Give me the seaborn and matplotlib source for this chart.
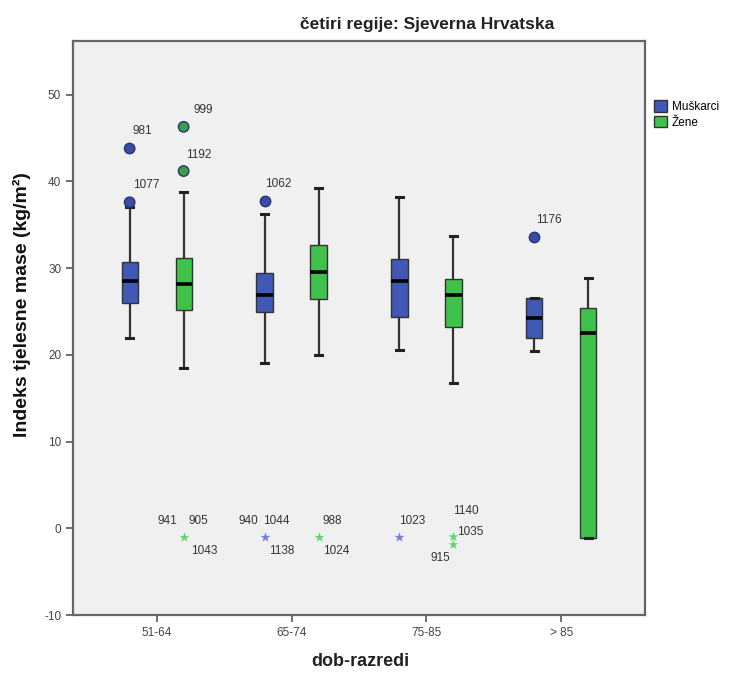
import numpy as np
import pandas as pd
import matplotlib
matplotlib.use("Agg")
import matplotlib.pyplot as plt
import seaborn as sns

# ---------------- data ----------------
groups = ['51-64', '65-74', '75-85', '> 85']
sexes = ['Muškarci', 'Žene']

men_low = [22.0, 19.1, 20.6, 20.4]
men_q1 = [26.0, 24.9, 24.4, 22.0]
men_med = [28.5, 26.9, 28.5, 24.3]
men_q3 = [30.7, 29.5, 31.1, 26.6]
men_high = [37.0, 36.3, 38.2, 26.6]

women_low = [18.5, 20.0, 16.8, -1.1]
women_q1 = [25.2, 26.4, 23.2, -1.1]
women_med = [28.2, 29.6, 26.9, 22.5]
women_q3 = [31.2, 32.7, 28.7, 25.4]
women_high = [38.8, 39.3, 33.7, 28.9]

outlier_group = ['51-64', '51-64', '51-64', '51-64', '65-74', '> 85']
outlier_sex = ['Muškarci', 'Muškarci', 'Žene', 'Žene', 'Muškarci', 'Muškarci']
outlier_value = [43.8, 37.6, 46.3, 41.2, 37.8, 33.6]
outlier_id = ['981', '1077', '999', '1192', '1062', '1176']

extreme_group = ['51-64', '65-74', '65-74', '75-85', '75-85', '75-85']
extreme_sex = ['Žene', 'Muškarci', 'Žene', 'Muškarci', 'Žene', 'Žene']
extreme_value = [-1.0, -1.0, -1.0, -1.0, -1.0, -1.9]
extreme_ids = [['941', '905', '1043'], ['940', '1044', '1138'], ['988', '1024'],
               ['1023'], ['1140', '1035'], ['915']]

# label placement (pixels: dx, dy, ha)
outlier_label_pos = [(3, 18, 'left'), (3, 17, 'left'), (10, 17, 'left'),
                     (2, 16, 'left'), (0, 17, 'left'), (2, 17, 'left')]
extreme_label_pos = [[(-6, 16, 'right'), (5, 16, 'left'), (7, -14, 'left')],
                     [(-6, 16, 'right'), (-2, 16, 'left'), (4, -14, 'left')],
                     [(4, 16, 'left'), (5, -14, 'left')],
                     [(0, 16, 'left')],
                     [(0, 26, 'left'), (4, 5, 'left')],
                     [(-3, -13, 'right')]]

# ---------------- build long table from five-number summaries ----------------
rows = []
for i, g in enumerate(groups):
    for v in (men_low[i], men_q1[i], men_med[i], men_q3[i], men_high[i]):
        rows.append((g, 'Muškarci', v))
    for v in (women_low[i], women_q1[i], women_med[i], women_q3[i], women_high[i]):
        rows.append((g, 'Žene', v))
df = pd.DataFrame(rows, columns=['dob', 'spol', 'bmi'])

out_df = pd.DataFrame({'dob': outlier_group, 'spol': outlier_sex, 'bmi': outlier_value})
ext_df = pd.DataFrame({'dob': extreme_group, 'spol': extreme_sex, 'bmi': extreme_value})

box_colors = {'Muškarci': '#4058B6', 'Žene': '#3EC24C'}
out_colors = {'Muškarci': '#3A4DA6', 'Žene': '#3A9E4A'}
star_colors = {'Muškarci': '#7480D6', 'Žene': '#62D56E'}

plt.rcParams['font.family'] = ['Liberation Sans', 'DejaVu Sans']
plt.rcParams['axes.unicode_minus'] = False

fig = plt.figure(figsize=(7.4, 6.77), dpi=100)
fig.patch.set_facecolor('white')
ax = fig.add_axes([73 / 740, 1 - 615 / 677, (645 - 73) / 740, (615 - 41) / 677])
ax.set_facecolor('#F0F0F0')

sns.boxplot(data=df, x='dob', y='bmi', hue='spol', order=groups, hue_order=sexes,
            palette=box_colors, width=0.8, gap=0.7, whis=1.5, showfliers=False,
            linecolor='#333333', linewidth=1.0, saturation=1,
            medianprops=dict(color='black', linewidth=2.6),
            whiskerprops=dict(color='#333333', linewidth=1.6),
            capprops=dict(color='#222222', linewidth=2.2),
            capwidths=0.055,
            ax=ax, legend=True)

sns.stripplot(data=out_df, x='dob', y='bmi', hue='spol', order=groups, hue_order=sexes,
              palette=out_colors, dodge=True, jitter=False, marker='o', size=7.5,
              linewidth=1.0, edgecolor='#2A3270', ax=ax, legend=False)
sns.stripplot(data=ext_df, x='dob', y='bmi', hue='spol', order=groups, hue_order=sexes,
              palette=star_colors, dodge=True, jitter=False, marker='*', size=7.5,
              linewidth=0, ax=ax, legend=False)

def xpos(g, s):
    return groups.index(g) + (-0.2 if s == 'Muškarci' else 0.2)

for g, s, v, lab, (dx, dy, ha) in zip(outlier_group, outlier_sex, outlier_value,
                                      outlier_id, outlier_label_pos):
    ax.annotate(lab, xy=(xpos(g, s), v), xytext=(dx, dy), textcoords='offset pixels',
                ha=ha, va='center', fontsize=8.5, color='#333333')
for g, s, v, labs, poss in zip(extreme_group, extreme_sex, extreme_value,
                               extreme_ids, extreme_label_pos):
    for lab, (dx, dy, ha) in zip(labs, poss):
        ax.annotate(lab, xy=(xpos(g, s), v), xytext=(dx, dy), textcoords='offset pixels',
                    ha=ha, va='center', fontsize=8.5, color='#333333')

ax.set_xlim(-0.62, 3.62)
ax.set_ylim(-10, 56.2)
ax.set_yticks([-10, 0, 10, 20, 30, 40, 50])
ax.set_xlabel('')
ax.set_ylabel('')
ax.tick_params(axis='both', labelsize=8.5, labelcolor='#444444', color='#555555',
               length=5, width=1.2)
for sp in ax.spines.values():
    sp.set_color('#666666')
    sp.set_linewidth(1.6)

# legend
handles, labels = ax.get_legend_handles_labels()
ax.get_legend().remove()
fig.legend(handles, labels, loc='upper left', bbox_to_anchor=(646 / 740, 1 - 92 / 677),
           frameon=False, fontsize=8.5, handlelength=1.1, handleheight=1.1,
           handletextpad=0.4, labelspacing=0.25, borderpad=0.2)

fig.text(427 / 740, 1 - 25 / 677, 'četiri regije: Sjeverna Hrvatska', ha='center',
         va='center', fontsize=12.5, fontweight='bold', color='#222222')
fig.text(360 / 740, 1 - 662 / 677, 'dob-razredi', ha='center', va='center',
         fontsize=13, fontweight='bold', color='#222222')
fig.text(22 / 740, 1 - 305 / 677, 'Indeks tjelesne mase (kg/m²)', ha='center',
         va='center', rotation=90, fontsize=14, fontweight='bold', color='#111111')

fig.savefig('out.png', dpi=100)
